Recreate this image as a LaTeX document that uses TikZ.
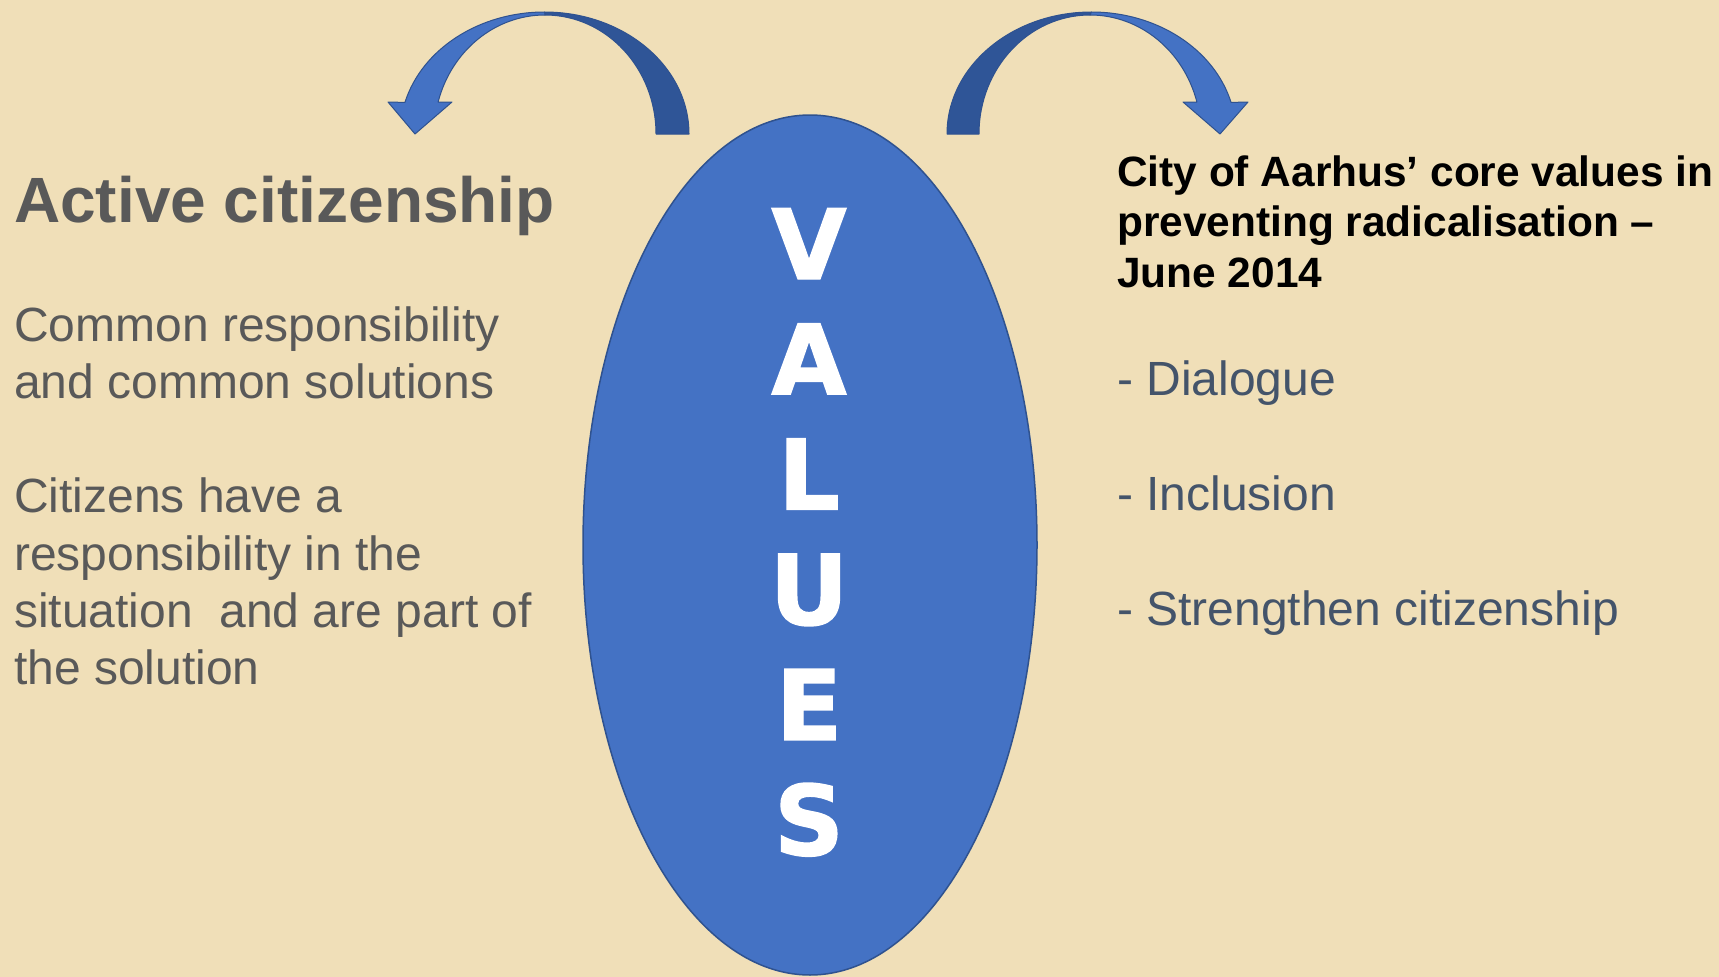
\documentclass[tikz,border=0pt]{standalone}
\usepackage{fontspec}
\setmainfont{Liberation Sans}
\newfontfamily\valfont[FakeBold=1.5]{DejaVu Sans Bold}
\usetikzlibrary{positioning}
\usetikzlibrary{shapes.geometric}
\definecolor{parchment}{HTML}{F0DFB8}
\definecolor{ovalblue}{HTML}{4472C4}
\definecolor{ovaledge}{HTML}{2F528F}
\definecolor{arcdark}{HTML}{2F5597}
\definecolor{leftgrey}{HTML}{595959}
\definecolor{listblue}{HTML}{44546A}
\tikzset{
  lefthead/.style={anchor=base west, inner sep=0pt, text=leftgrey, font=\fontsize{64}{77}\selectfont\bfseries},
  lefttext/.style={anchor=base west, inner sep=0pt, text=leftgrey, font=\fontsize{48}{57}\selectfont},
  righthead/.style={anchor=base west, inner sep=0pt, text=black, font=\fontsize{42.4}{50}\selectfont\bfseries},
  listitem/.style={anchor=base west, inner sep=0pt, text=listblue, font=\fontsize{48}{57}\selectfont},
  valletter/.style={anchor=base, inner sep=0pt, text=white, font=\valfont\fontsize{97}{110}\selectfont},
  valoval/.style={ellipse, fill=ovalblue, draw=ovaledge, line width=1.5pt, minimum width=454pt, minimum height=860pt, inner sep=0pt},
  arcfront/.style={fill=ovalblue, draw=ovaledge, line width=1pt, line join=round},
  arcback/.style={fill=arcdark, draw=ovaledge, line width=1pt, line join=round}
}

\begin{document}
\begin{tikzpicture}[x=1pt, y=1pt]
    \fill[parchment] (0,0) rectangle (1719,-977);
    \useasboundingbox (0,0) rectangle (1719,-977);

    % curved arrow, left
    \path[arcback] (544.5,-12) arc[start angle=90, end angle=0, x radius=144.5, y radius=122]
        -- (656,-134) arc[start angle=0, end angle=90, x radius=111, y radius=119] -- cycle;
    \path[arcfront] (544.5,-12) arc[start angle=90, end angle=165, x radius=144.5, y radius=122]
        -- (388,-102) -- (415,-134) -- (452,-102) -- (438.1,-102)
        arc[start angle=164.4, end angle=90, x radius=111, y radius=119] -- cycle;

    % curved arrow, right
    \path[arcback] (1091.5,-12) arc[start angle=90, end angle=180, x radius=144.5, y radius=122]
        -- (979,-134) arc[start angle=180, end angle=90, x radius=111, y radius=119] -- cycle;
    \path[arcfront] (1091.5,-12) arc[start angle=90, end angle=15, x radius=144.5, y radius=122]
        -- (1248,-102) -- (1220,-134) -- (1183,-102) -- (1196.9,-102)
        arc[start angle=15.6, end angle=90, x radius=111, y radius=119] -- cycle;

    % the oval
    \node[valoval] (oval) at (810,-545) {};
    \foreach \ch [count=\i] in {V,A,L,U,E,S}
        \node[valletter] (val\i) at (809,{-279-115.2*(\i-1)}) {\ch};

    % left column
    \node[lefthead] (active) at (14,-222) {Active citizenship};
    \node[lefttext] (common1) at (14,-341) {Common responsibility};
    \node[lefttext, below=57.3pt of common1.base west, anchor=base west] (common2) {and common solutions};
    \node[lefttext, below=114.6pt of common2.base west, anchor=base west] (citiz1) {Citizens have a};
    \node[lefttext, below=57.3pt of citiz1.base west, anchor=base west] (citiz2) {responsibility in the};
    \node[lefttext, below=57.3pt of citiz2.base west, anchor=base west] (citiz3) {situation\ \ and are part of};
    \node[lefttext, below=57.3pt of citiz3.base west, anchor=base west] (citiz4) {the solution};

    % right column
    \node[righthead] (aarhus1) at (1117,-186) {City of Aarhus’ core values in};
    \node[righthead, below=50.5pt of aarhus1.base west, anchor=base west] (aarhus2) {preventing radicalisation –};
    \node[righthead, below=50.5pt of aarhus2.base west, anchor=base west] (aarhus3) {June 2014};
    \node[listitem] (dialog) at (1117,-395) {- Dialogue};
    \node[listitem, below=115pt of dialog.base west, anchor=base west] (inclus) {- Inclusion};
    \node[listitem, below=115pt of inclus.base west, anchor=base west] (strength) {- Strengthen citizenship};
\end{tikzpicture}
\end{document}
